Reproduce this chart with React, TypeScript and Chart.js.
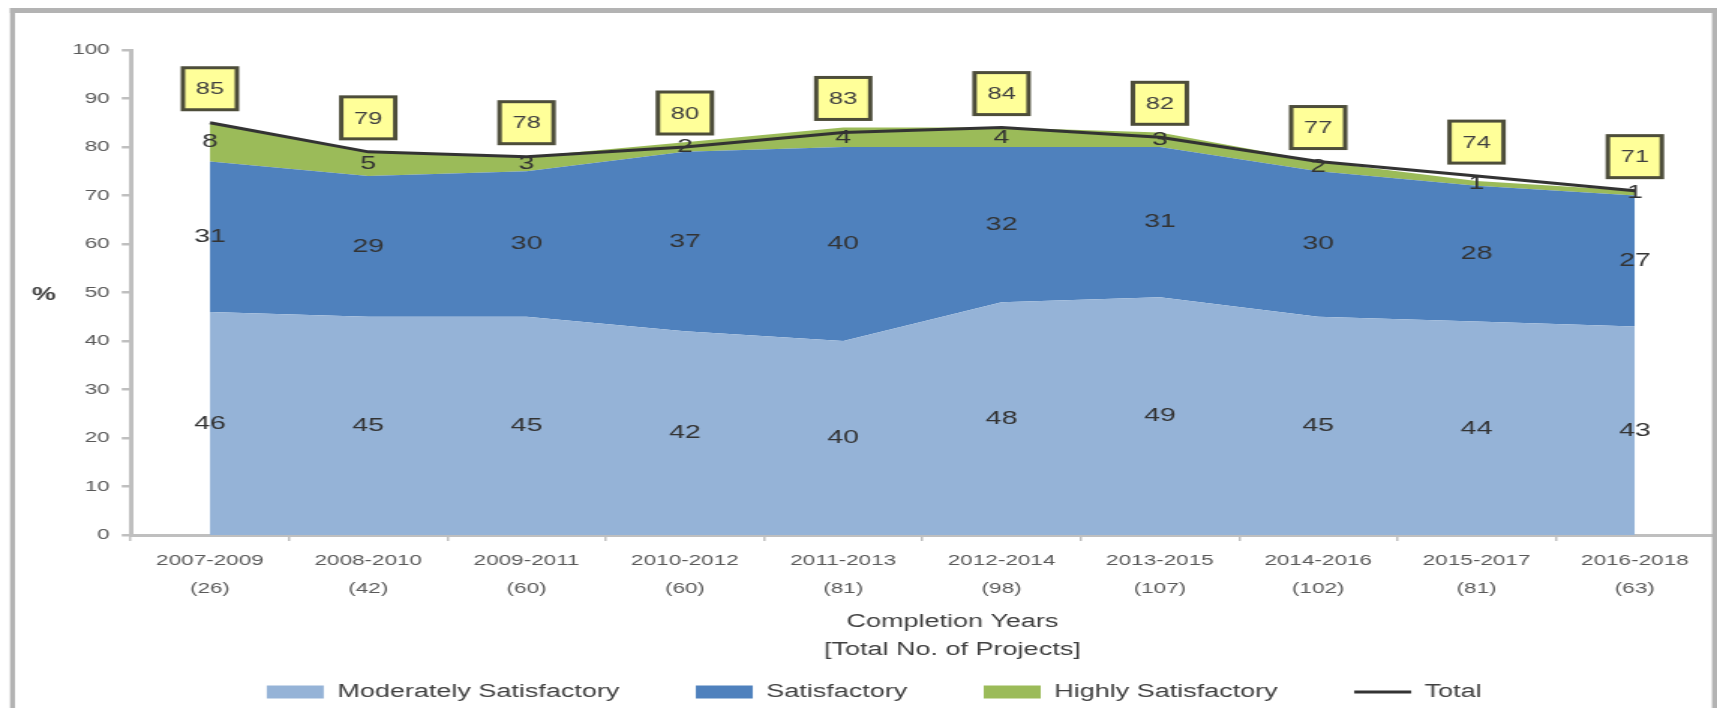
import React, { useEffect, useRef } from 'react';
import { Chart, registerables } from 'chart.js';

Chart.register(...registerables);

// ---------- data ----------
const periods = ['2007-2009', '2008-2010', '2009-2011', '2010-2012', '2011-2013', '2012-2014', '2013-2015', '2014-2016', '2015-2017', '2016-2018'];
const projectCounts = ['(26)', '(42)', '(60)', '(60)', '(81)', '(98)', '(107)', '(102)', '(81)', '(63)'];
const moderatelySatisfactory = [46, 45, 45, 42, 40, 48, 49, 45, 44, 43];
const satisfactory = [31, 29, 30, 37, 40, 32, 31, 30, 28, 27];
const highlySatisfactory = [8, 5, 3, 2, 4, 4, 3, 2, 1, 1];
const totalSatisfactory = [85, 79, 78, 80, 83, 84, 82, 77, 74, 71];
const seriesNames = ['Moderately Satisfactory', 'Satisfactory', 'Highly Satisfactory', 'Total'];
const xAxisTitle = ['Completion Years', '[Total No. of Projects]'];
const yAxisTitle = '%';
const yMin = 0;
const yMax = 100;
const yStep = 10;

// ---------- styling ----------
const FONT = "'Liberation Sans', Arial, sans-serif";
const CANVAS_W = 1145; // drawn narrower, then stretched horizontally like the reference
const CANVAS_H = 708;
const COLORS = ['#95b3d7', '#4f81bd', '#9bbb59', '#333333'];
const TEXT = '#404040';
const AXIS = '#bfbfbf';

const labelsPlugin = {
  id: 'valueLabels',
  afterDatasetsDraw(chart: any) {
    const ctx = chart.ctx;
    const yScale = chart.scales.y;
    ctx.save();
    ctx.textAlign = 'center';
    ctx.textBaseline = 'middle';
    ctx.font = `19px ${FONT}`;
    ctx.fillStyle = '#333333';
    for (let d = 0; d < 3; d++) {
      const meta = chart.getDatasetMeta(d);
      const prev = d > 0 ? chart.getDatasetMeta(d - 1) : null;
      meta.data.forEach((pt: any, i: number) => {
        const bottom = prev ? prev.data[i].y : yScale.getPixelForValue(0);
        ctx.fillText(String(chart.data.datasets[d].data[i]), pt.x, (pt.y + bottom) / 2);
      });
    }
    const tm = chart.getDatasetMeta(3);
    tm.data.forEach((pt: any, i: number) => {
      const cx = pt.x;
      const cy = pt.y - 34;
      const w = 36;
      const h = 42;
      ctx.fillStyle = '#ffff99';
      ctx.fillRect(cx - w / 2, cy - h / 2, w, h);
      ctx.strokeStyle = '#4d4d3a';
      ctx.lineWidth = 3;
      ctx.strokeRect(cx - w / 2, cy - h / 2, w, h);
      ctx.fillStyle = TEXT;
      ctx.font = `17px ${FONT}`;
      ctx.fillText(String(chart.data.datasets[3].data[i]), cx, cy + 1);
    });
    ctx.restore();
  },
};

const decorPlugin = {
  id: 'decor',
  afterDraw(chart: any) {
    const ctx = chart.ctx;
    const area = chart.chartArea;
    const xs = chart.scales.x;
    ctx.save();
    // axis titles
    ctx.fillStyle = TEXT;
    ctx.textAlign = 'center';
    ctx.textBaseline = 'middle';
    ctx.font = `18px ${FONT}`;
    const cx = (area.left + area.right) / 2 + 20;
    ctx.fillText(xAxisTitle[0], cx, xs.top + 87);
    ctx.fillText(xAxisTitle[1], cx, xs.top + 115);
    ctx.font = `bold 18px ${FONT}`;
    ctx.fillText(yAxisTitle, 29.3, (area.top + area.bottom) / 2 + 3);
    // outer frame
    ctx.fillStyle = '#b3b3b3';
    ctx.fillRect(6.7, 8, CANVAS_W - 6.7, 5);
    ctx.fillRect(6.7, 8, 3.3, CANVAS_H - 8);
    ctx.fillRect(CANVAS_W - 3.4, 8, 3.4, CANVAS_H - 8);
    ctx.restore();
  },
};

export default function App() {
  const ref = useRef<HTMLCanvasElement | null>(null);

  useEffect(() => {
    if (!ref.current) return;
    Chart.defaults.font.family = FONT;
    const chart = new Chart(ref.current, {
      type: 'line',
      data: {
        labels: periods.map((p, i) => [p, projectCounts[i]]),
        datasets: [
          {
            label: seriesNames[0],
            data: moderatelySatisfactory,
            backgroundColor: COLORS[0],
            borderColor: COLORS[0],
            borderWidth: 0,
            fill: 'origin',
            stack: 'areas',
            pointRadius: 0,
          },
          {
            label: seriesNames[1],
            data: satisfactory,
            backgroundColor: COLORS[1],
            borderColor: COLORS[1],
            borderWidth: 0,
            fill: '-1',
            stack: 'areas',
            pointRadius: 0,
          },
          {
            label: seriesNames[2],
            data: highlySatisfactory,
            backgroundColor: COLORS[2],
            borderColor: COLORS[2],
            borderWidth: 0,
            fill: '-1',
            stack: 'areas',
            pointRadius: 0,
          },
          {
            label: seriesNames[3],
            data: totalSatisfactory,
            borderColor: COLORS[3],
            backgroundColor: COLORS[3],
            borderWidth: 3,
            fill: false,
            stack: 'total',
            pointRadius: 0,
            order: -1,
          },
        ],
      },
      options: {
        responsive: false,
        animation: false,
        devicePixelRatio: 1,
        events: [],
        layout: { padding: { top: 50, left: 23, right: 2, bottom: -3 } },
        elements: { line: { tension: 0 } },
        plugins: {
          tooltip: { enabled: false },
          legend: {
            position: 'bottom',
            labels: {
              usePointStyle: true,
              pointStyleWidth: 38,
              boxHeight: 13,
              padding: 51,
              color: TEXT,
              font: { size: 18, family: FONT },
              generateLabels: (c: any) =>
                c.data.datasets.map((ds: any, i: number) => ({
                  text: ds.label,
                  fillStyle: i < 3 ? ds.backgroundColor : 'rgba(0,0,0,0)',
                  strokeStyle: i < 3 ? ds.backgroundColor : COLORS[3],
                  lineWidth: i < 3 ? 0 : 3,
                  pointStyle: i < 3 ? 'rect' : 'line',
                  hidden: false,
                  datasetIndex: i,
                  fontColor: TEXT,
                })),
            },
          },
        },
        scales: {
          x: {
            type: 'category',
            offset: true,
            afterFit: (s: any) => {
              s.height = 97;
            },
            grid: { offset: true, drawOnChartArea: false, tickLength: 6, color: AXIS, lineWidth: 1.5 },
            border: { color: AXIS, width: 3 },
            ticks: {
              autoSkip: false,
              maxRotation: 0,
              padding: 6,
              color: '#595959',
              font: { size: 15, lineHeight: 1.87, family: FONT },
            },
          },
          y: {
            stacked: true,
            min: yMin,
            max: yMax,
            afterFit: (s: any) => {
              s.width = 64.2;
            },
            grid: { drawOnChartArea: false, tickLength: 6, color: AXIS, lineWidth: 2.5 },
            border: { color: AXIS, width: 3 },
            ticks: { stepSize: yStep, padding: 8, color: '#595959', font: { size: 15, family: FONT } },
          },
        },
      },
      plugins: [labelsPlugin, decorPlugin],
    } as any);
    return () => chart.destroy();
  }, []);

  return (
    <div style={{ position: 'fixed', left: 0, top: 0, width: 1717, height: 708, background: '#ffffff' }}>
      <canvas
        ref={ref}
        width={CANVAS_W}
        height={CANVAS_H}
        style={{ width: '1717px', height: '708px', display: 'block' }}
      />
    </div>
  );
}
